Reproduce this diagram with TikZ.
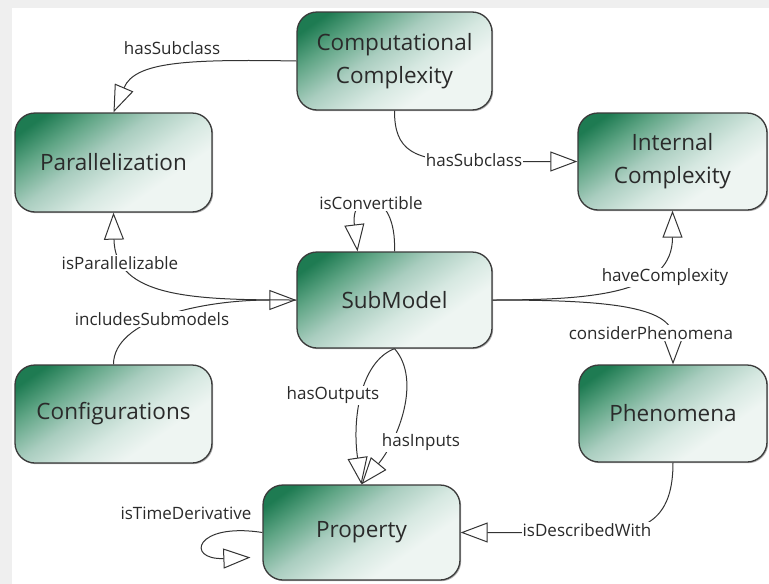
\documentclass[tikz,border=0pt]{standalone}
\usepackage{fontspec}
\setmainfont{Open Sans}
\usetikzlibrary{arrows.meta,shadows,calc}
\definecolor{gdark}{HTML}{1E7B52}
\definecolor{gmida}{HTML}{5FA585}
\definecolor{gmid}{HTML}{A9CDBF}
\definecolor{gmidb}{HTML}{D6E8E1}
\definecolor{glight}{HTML}{EEF5F2}
\definecolor{bordergray}{HTML}{3A3A3A}
\definecolor{linegray}{HTML}{333333}
\definecolor{txtgray}{HTML}{2A2A2A}
\definecolor{bggray}{HTML}{EFEFEF}
\pgfdeclarehorizontalshading{boxshade}{100bp}{color(0bp)=(gdark); color(22bp)=(gdark); color(32bp)=(gmida); color(44bp)=(gmid); color(56bp)=(gmidb); color(66bp)=(glight); color(100bp)=(glight)}
\newcommand\boxfont{\fontsize{22.5}{33}\selectfont}
\newcommand\lblfont{\fontsize{17}{20}\selectfont}
\tikzset{
  box/.style={draw=bordergray, line width=1.3pt, rounded corners=20pt,
    shading=boxshade, shading angle=-55,
    align=center, font=\boxfont, text=txtgray, inner sep=0pt,
    drop shadow={shadow xshift=1.2pt, shadow yshift=-1.2pt, fill=black, opacity=0.3}},
  lbl/.style={font=\lblfont, text=txtgray, inner sep=1pt},
  lblw/.style={lbl, fill=white},
  rel/.style={draw=linegray, line width=1pt,
    -{Triangle[open, length=27pt, width=20pt, line width=1pt]}},
}
\begin{document}
\begin{tikzpicture}[x=1pt,y=-1pt]
\useasboundingbox (0,0) rectangle (769,584);
\fill[bggray] (0,0) rectangle (769,584);
\fill[white] (12,8) rectangle (769,584);

% nodes
\node[box, minimum width=195pt, minimum height=98pt] (cc) at (394.5,61) {Computational\\Complexity};
\node[box, minimum width=197pt, minimum height=99pt] (par) at (113.5,162.5) {Parallelization};
\node[box, minimum width=189pt, minimum height=97pt] (ic) at (672.5,161.5) {Internal\\Complexity};
\node[box, minimum width=195pt, minimum height=96pt] (sm) at (394.5,300) {SubModel};
\node[box, minimum width=197pt, minimum height=98pt] (conf) at (113.5,414) {Configurations};
\node[box, minimum width=188pt, minimum height=97pt] (ph) at (673,413.5) {Phenomena};
\node[box, minimum width=197pt, minimum height=95pt] (prop) at (361.5,532.5) {Property};

% connectors
\draw[rel] (cc.west) .. controls (185,59) and (135,62) .. (par.north);
\draw[rel] (cc.south) .. controls (394.5,150) and (412,161.5) .. (474,161.5) -- (ic.west);
\draw[rel] (sm.north) .. controls (397,188) and (350,188) .. ($(sm.north)+(-37,0)$);
\draw[rel] (sm.west) .. controls (195,300) and (115,298) .. (par.south);
\draw[rel] (conf.north) .. controls (113.5,320) and (200,300) .. (sm.west);
\draw[rel] (sm.south) .. controls (360,362) and (352,420) .. (prop.north);
\draw[rel] (sm.south) .. controls (422,380) and (398,440) .. (prop.north);
\draw[rel] (prop.west) .. controls (195,522) and (185,560) .. ($(prop.west)+(-12,25)$);
\draw[rel] (sm.east) .. controls (600,300) and (672.5,292) .. (ic.south);
\draw[rel] (sm.east) .. controls (600,300) and (673,305) .. (ph.north);
\draw[rel] (ph.south) .. controls (673,515) and (650,532.5) .. (600,532.5) -- (prop.east);

% labels
\node[lbl] (l1) at (172,48) {hasSubclass};
\node[lblw] (l2) at (474,160) {hasSubclass};
\node[lblw] (l3) at (371,203) {isConvertible};
\node[lblw] (l4) at (120,263) {isParallelizable};
\node[lblw] (l5) at (152,319) {includesSubmodels};
\node[lblw] (l6) at (333,395) {hasOutputs};
\node[lblw] (l7) at (421,442) {hasInputs};
\node[lbl] (l8) at (186,513) {isTimeDerivative};
\node[lblw] (l9) at (665,277) {haveComplexity};
\node[lblw] (l10) at (651,333) {considerPhenomena};
\node[lblw] (l11) at (587,530) {isDescribedWith};
\end{tikzpicture}
\end{document}
